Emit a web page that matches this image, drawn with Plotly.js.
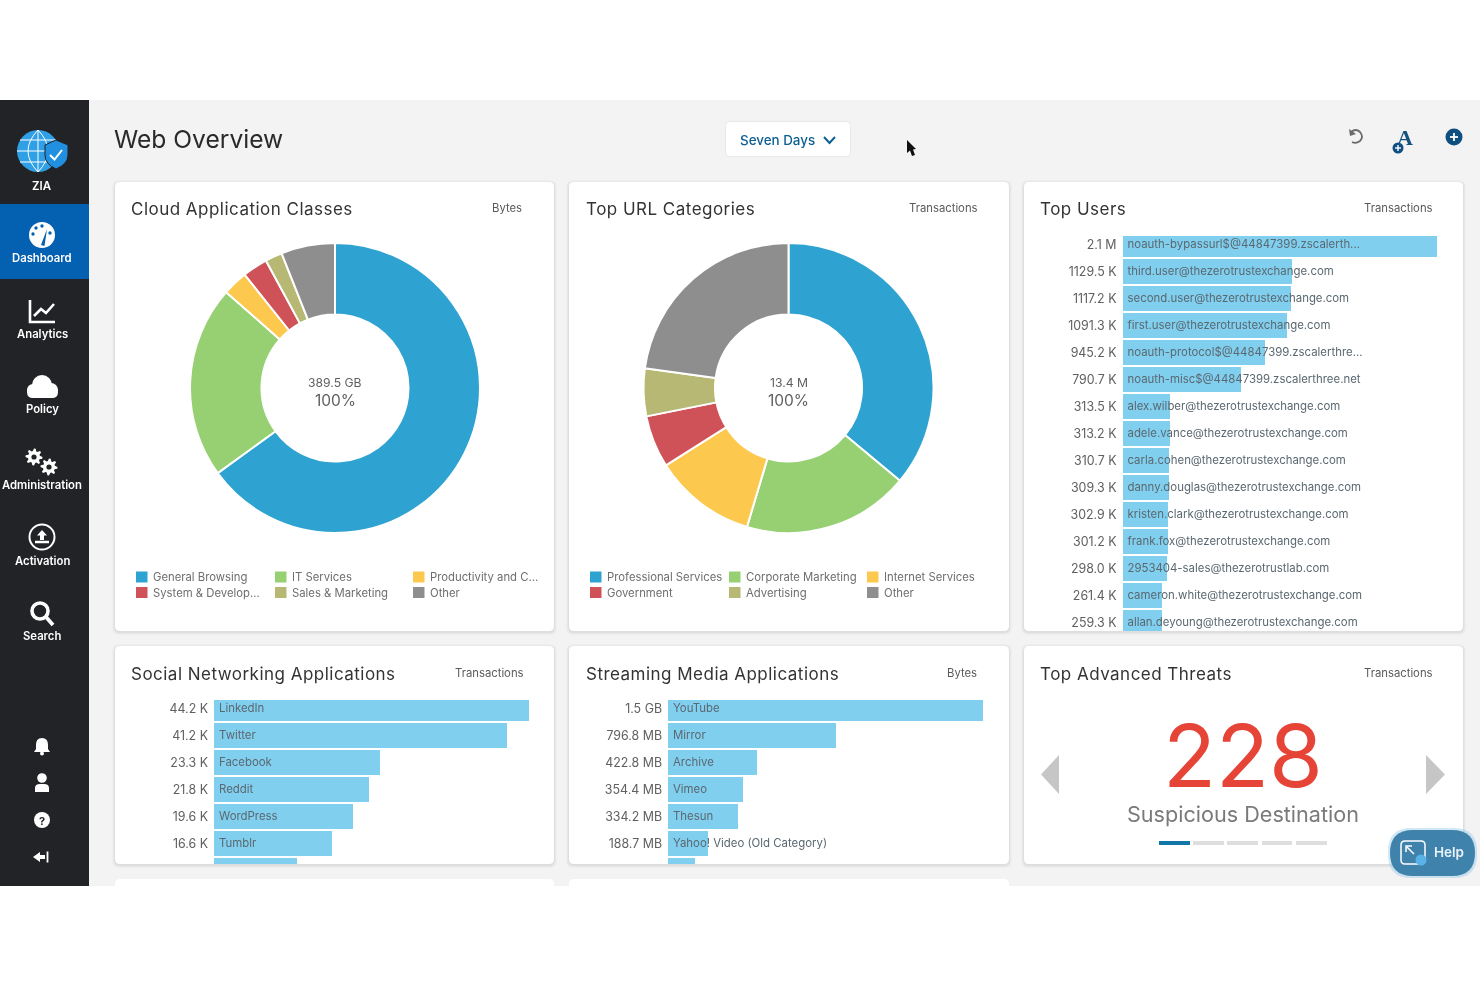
<!DOCTYPE html>
<html><head><meta charset="utf-8">
<script src="https://cdn.plot.ly/plotly-3.0.1.min.js"></script>
<style>
html,body{margin:0;padding:0;background:#fff;overflow:hidden}
#chart{filter:blur(.3px)}
text.annotation-text[style*="font-size: 17px"]{letter-spacing:.48px}
</style></head><body><div id="chart" style="width:1480px;height:987px"></div>
<script>
// ---------- data ----------
const cloudClassLabels = ['General Browsing','IT Services','Productivity and Collaboration','System & Development','Sales & Marketing','Other'];
const cloudClassValues = [253.2,83.7,10.9,10.9,7.4,23.4];
const cloudLegend = ['General Browsing','IT Services','Productivity and C...','System & Develop...','Sales & Marketing','Other'];
const urlCategoryLabels = ['Professional Services','Corporate Marketing','Internet Services','Government','Advertising','Other'];
const urlCategoryValues = [4.83,2.49,1.53,0.78,0.71,3.06];
const pieColors = ['#2ea2d1','#97d073','#fcc84e','#ce5257','#b7b874','#8e8e8e'];

const userNames = ['noauth-bypassurl$@44847399.zscalerth...','third.user@thezerotrustexchange.com','second.user@thezerotrustexchange.com','first.user@thezerotrustexchange.com','noauth-protocol$@44847399.zscalerthre...','noauth-misc$@44847399.zscalerthree.net','alex.wilber@thezerotrustexchange.com','adele.vance@thezerotrustexchange.com','carla.cohen@thezerotrustexchange.com','danny.douglas@thezerotrustexchange.com','kristen.clark@thezerotrustexchange.com','frank.fox@thezerotrustexchange.com','2953404-sales@thezerotrustlab.com','cameron.white@thezerotrustexchange.com','allan.deyoung@thezerotrustexchange.com'];
const userValues = [2090,1129.5,1117.2,1091.3,945.2,790.7,313.5,313.2,310.7,309.3,302.9,301.2,298.0,261.4,259.3];
const userTicks = ['2.1 M','1129.5 K','1117.2 K','1091.3 K','945.2 K','790.7 K','313.5 K','313.2 K','310.7 K','309.3 K','302.9 K','301.2 K','298.0 K','261.4 K','259.3 K'];

const socialNames = ['LinkedIn','Twitter','Facebook','Reddit','WordPress','Tumblr',''];
const socialValues = [44.2,41.2,23.3,21.8,19.6,16.6,11.7];
const socialTicks = ['44.2 K','41.2 K','23.3 K','21.8 K','19.6 K','16.6 K','11.7 K'];

const streamNames = ['YouTube','Mirror','Archive','Vimeo','Thesun','Yahoo! Video (Old Category)',''];
const streamValues = [1496,796.8,422.8,354.4,334.2,188.7,128];
const streamTicks = ['1.5 GB','796.8 MB','422.8 MB','354.4 MB','334.2 MB','188.7 MB','128.0 MB'];

const navLabels = ['ZIA','Dashboard','Analytics','Policy','Administration','Activation','Search'];

// ---------- helpers ----------
const W=1480,H=987, FONT='Inter, "Noto Sans", sans-serif';
const px=x=>x/W, py=y=>1-y/H;
const shapes=[], annotations=[], traces=[];
function rect(x0,y0,x1,y1,fill,layer){shapes.push({type:'rect',xref:'paper',yref:'paper',x0:px(x0),x1:px(x1),y0:py(y1),y1:py(y0),fillcolor:fill,line:{width:0},layer:layer||'below'});}
function path(d,fill,lineColor,lineWidth,layer){
  const out=d.replace(/([MLQCZ])([^MLQCZ]*)/g,(m,c,a)=>{
    const n=a.trim().split(/[\s,]+/).filter(Boolean).map(Number);let r=c;
    for(let i=0;i<n.length;i+=2)r+=(i?' ':'')+px(n[i]).toFixed(6)+','+py(n[i+1]).toFixed(6);
    return r+' ';});
  shapes.push({type:'path',xref:'paper',yref:'paper',path:out.trim(),fillcolor:fill||'rgba(0,0,0,0)',line:{color:lineColor||'rgba(0,0,0,0)',width:lineWidth||0},layer:layer||'below'});
}
function circle(cx,cy,r,fill,lineColor,lineWidth,layer,dash){shapes.push({type:'circle',xref:'paper',yref:'paper',x0:px(cx-r),x1:px(cx+r),y0:py(cy+r),y1:py(cy-r),fillcolor:fill||'rgba(0,0,0,0)',line:{color:lineColor||'rgba(0,0,0,0)',width:lineWidth||0,dash:dash||'solid'},layer:layer||'below'});}
function rr(x0,y0,x1,y1,r){return `M${x0+r} ${y0} L${x1-r} ${y0} Q${x1} ${y0} ${x1} ${y0+r} L${x1} ${y1-r} Q${x1} ${y1} ${x1-r} ${y1} L${x0+r} ${y1} Q${x0} ${y1} ${x0} ${y1-r} L${x0} ${y0+r} Q${x0} ${y0} ${x0+r} ${y0} Z`;}
function topRound(x0,y0,x1,y1,r){return `M${x0} ${y1} L${x0} ${y0+r} Q${x0} ${y0} ${x0+r} ${y0} L${x1-r} ${y0} Q${x1} ${y0} ${x1} ${y0+r} L${x1} ${y1} Z`;}
function text(x,y,t,size,color,anchor,weight,family){
  const a=anchor||'left', nudge=a==='left'?-1:(a==='right'?1:0);
  annotations.push({xref:'paper',yref:'paper',x:px(x+nudge),y:py(y),text:t,showarrow:false,xanchor:a,yanchor:'middle',borderpad:0,font:{family:family||FONT,size:size,color:color,weight:weight||400}});}
function card(x0,y0,x1,y1){
  path(rr(x0-3,y0-2,x1+3,y1+4,7),'rgba(0,0,0,0.018)');
  path(rr(x0-2,y0-1,x1+2,y1+3,6),'rgba(0,0,0,0.025)');
  path(rr(x0-1,y0,x1+1,y1+2,6),'rgba(0,0,0,0.04)');
  path(rr(x0,y0,x1,y1,5),'#ffffff');
}
let axisN=0;
function barPanel(names,values,ticks,left,right,top,bottom,firstCenter,fullPx){
  axisN++;const id=axisN===1?'':axisN;
  const pitch=27, max=Math.max(...values), unit=max/fullPx;
  const idx=values.map((v,i)=>i);
  traces.push({type:'bar',orientation:'h',x:values,y:idx,width:24.5/pitch,marker:{color:'#81cfef'},xaxis:'x'+id,yaxis:'y'+id,hoverinfo:'skip',showlegend:false});
  traces.push({type:'scatter',mode:'text',x:values.map(()=>5*unit),y:idx.map(i=>i+0.035),text:names,textposition:'middle right',textfont:{family:FONT,size:11.4,color:'#5a6870'},xaxis:'x'+id,yaxis:'y'+id,hoverinfo:'skip',showlegend:false,cliponaxis:true});
  layout['xaxis'+id]={domain:[px(left),px(right)],range:[0,(right-left)*unit],visible:false,anchor:'y'+id,fixedrange:true};
  layout['yaxis'+id]={domain:[py(bottom),py(top)],range:[(bottom-firstCenter)/pitch,(top-firstCenter)/pitch],anchor:'x'+id,showgrid:false,zeroline:false,showline:false,ticks:'',tickmode:'array',tickvals:idx,ticktext:ticks,ticklabelstandoff:5,tickfont:{family:FONT,size:12.4,color:'#606060'},fixedrange:true};
}
function donut(labels,values,cx,cy,r,hole1,hole2){
  traces.push({type:'pie',labels:labels,values:values,sort:false,direction:'clockwise',rotation:0,hole:.507,textinfo:'none',hoverinfo:'skip',showlegend:false,
    marker:{colors:pieColors,line:{color:'#ffffff',width:2}},domain:{x:[px(cx-r),px(cx+r)],y:[py(cy+r),py(cy-r)]}});
  text(cx,cy-5.5,hole1,12.2,'#5f5f5f','center');
  text(cx,cy+12.5,hole2,15.5,'#5f5f5f','center');
}
function legend(names,xs,textOffset){
  names.forEach((n,i)=>{const x=xs[i%3],y=i<3?577:592.5;
    rect(x,y-5.5,x+11.5,y+5.5,pieColors[i]);
    text(x+textOffset,y,n,11.3,'#6e6e6e');});
}
function gear(cx,cy,R,r,n){let d='';for(let i=0;i<n*4;i++){const a=i/(n*4)*2*Math.PI,q=(i%4<2)?R:r;d+=(i?'L':'M')+(cx+q*Math.cos(a)).toFixed(2)+' '+(cy+q*Math.sin(a)).toFixed(2)+' ';}return d+'Z';}

const layout={width:W,height:H,margin:{l:0,r:0,t:0,b:0},paper_bgcolor:'#ffffff',plot_bgcolor:'rgba(0,0,0,0)',showlegend:false,bargap:0,shapes:shapes,annotations:annotations,font:{family:FONT}};

// ---------- page frame ----------
rect(0,100,W,886,'#f3f3f3');
rect(0,100,89,886,'#222326');
rect(0,204,89,279,'#0460b0');
text(114,139,'Web Overview',24.6,'#2a2a2a');
path(rr(725,121,851,157,5),'rgba(0,0,0,0.04)');
path(rr(726,122,850,156,4),'#ffffff');
text(740,140,'Seven Days',13.4,'#0c5f92','left',500);
path('M824 137 L829.5 143 L835 137',null,'#0c5f92',2);
// cursor
path('M907 140 L907 153 L910 150.5 L912 156 L915 155 L913 149.5 L916 149 Z','#111111');
// top right icons
path('M1351 132 Q1356 128 1360 132 Q1364 137 1360 141 Q1356 144 1352 142',null,'#6a6a6a',1.8);
path('M1349 129 L1350 136 L1356 134 Z','#6a6a6a');
text(1405,138,'A',22,'#14527f','center',700,'"Liberation Serif", serif');
circle(1398,148,5.5,'#0e4f80');
path('M1395 148 L1401 148',null,'#ffffff',1.4);path('M1398 145 L1398 151',null,'#ffffff',1.4);
circle(1454,137,8.5,'#0e4f80');
path('M1450 137 L1458 137',null,'#ffffff',1.8);path('M1454 133 L1454 141',null,'#ffffff',1.8);

// ---------- cards ----------
card(115,182,554,631);card(569,182,1009,631);card(1024,182,1463,631);
card(115,646,554,864);card(569,646,1009,864);card(1024,646,1463,864);
path(topRound(115,879,554,886,5),'#ffffff');
path(topRound(569,879,1009,886,5),'#ffffff');
[[131,209,'Cloud Application Classes',522,'Bytes',208],[586,209,'Top URL Categories',978,'Transactions',208],[1040,209,'Top Users',1433,'Transactions',208],
 [131,674,'Social Networking Applications',524,'Transactions',672.5],[586,674,'Streaming Media Applications',977,'Bytes',672.5],[1040,674,'Top Advanced Threats',1433,'Transactions',672.5]]
 .forEach(c=>{text(c[0],c[1],c[2],17,'#333333');text(c[3],c[5],c[4],11.3,'#5a5a5a','right');});

// ---------- charts ----------
donut(cloudClassLabels,cloudClassValues,335,388,145,'389.5 GB','100%');
donut(urlCategoryLabels,urlCategoryValues,788.5,388,145,'13.4 M','100%');
legend(cloudLegend,[136,275,413],16.5);
legend(urlCategoryLabels,[590,729,867],16.5);
barPanel(userNames,userValues,userTicks,1122.5,1463,236,631,244.5,314.5);
barPanel(socialNames,socialValues,socialTicks,214,554,700,864,708.5,314.5);
barPanel(streamNames,streamValues,streamTicks,668,1009,700,864,708.5,314.5);

// ---------- threats tile ----------
annotations.push({xref:'paper',yref:'paper',x:px(1243),y:py(755.5),text:'228',showarrow:false,xanchor:'center',yanchor:'middle',font:{family:FONT,size:87,color:'#e64437',weight:400}});
text(1243,813.5,'Suspicious Destination',21.6,'#7a7a7a','center');
rect(1159,841,1190,845,'#1176a8');
[[1193,1224],[1227,1258],[1262,1292],[1296,1327]].forEach(s=>rect(s[0],841,s[1],845,'#dedede'));
path('M1059 755 L1059 794 L1041 774.5 Z','#c6c6c6');
path('M1426 755 L1426 794 L1445 774.5 Z','#c6c6c6');

// ---------- sidebar ----------
[[42,185.5],[42,258],[42,334],[42,409],[42,485],[42,561],[42,636]].forEach((p,i)=>text(p[0],p[1],navLabels[i],i===0?11.5:11.3,'#ffffff','center',600));
// globe
circle(38,151,21,'#2f9fe6');
path('M17 151 L59 151',null,'#ffffff',1);path('M20 140 L56 140',null,'#ffffff',1);path('M20 162 L56 162',null,'#ffffff',1);
path('M38 130 L38 172',null,'#ffffff',1);path('M38 130 Q18 151 38 172',null,'#ffffff',1);path('M38 130 Q58 151 38 172',null,'#ffffff',1);
path('M56 140 L68 145 L68 155 Q68 164 56 169 Q45 164 45 155 L45 145 Z','#2290e0','#222326',1);
path('M50 155 L54.5 159.5 L62 150',null,'#ffffff',2);
// dashboard gauge
circle(42,235,13,'#ffffff');
path('M41 245 L47 229 L44.5 246 Z','#0460b0');
circle(33,234,1.7,'#0460b0');circle(36,228,1.7,'#0460b0');circle(42,226,1.7,'#0460b0');circle(50,233,1.7,'#0460b0');
// analytics
path('M30 300 L30 322 L55 322',null,'#ffffff',2.6);
path('M34 316 L41 309 L46 313 L54 304',null,'#ffffff',2.6);
// cloud
path(rr(27,386,58,398,6),'#ffffff');circle(42,385,10,'#ffffff');circle(51,390,7,'#ffffff');circle(33,390,6,'#ffffff');
// gears
path(gear(34,457,8.5,6,8),'#ffffff');circle(34,457,2.6,'#222326');
path(gear(49,467,8.5,6,8),'#ffffff');circle(49,467,2.6,'#222326');
// activation
circle(42,537,12.5,null,'#ffffff',2);
path('M42 530 L47 535.5 L44 535.5 L44 540 L40 540 L40 535.5 L37 535.5 Z','#ffffff');
path('M35 542 L49 542',null,'#ffffff',2.5);
// search
circle(40,611,8,null,'#ffffff',3.6);
path('M46 617 L53 625',null,'#ffffff',3.8);
// bell
path('M42 738 Q48 738 48 745 L48 749 L50 752 L34 752 L36 749 L36 745 Q36 738 42 738 Z','#ffffff');circle(42,753.5,2,'#ffffff');
// user
circle(42,778,4.8,'#ffffff');path('M35 792 L35 788 Q35 784 40 784 L44 784 Q49 784 49 788 L49 792 Z','#ffffff');
// help
circle(42,820,8,'#ffffff');text(42,820.5,'?',11,'#222326','center',700);
// collapse
path('M33 857 L40 852 L40 855 L45 855 L45 859 L40 859 L40 862 Z','#ffffff');path('M47.5 851.5 L47.5 862.5',null,'#ffffff',1.8);

// ---------- help pill ----------
path(rr(1388,828,1477,878,23),'rgba(130,190,225,0.35)',null,0,'above');
path(rr(1390,830,1475,876,23),'#3f83ad',null,0,'above');
path(rr(1401,841,1425,864,4),null,'#ffffff',1.5,'above');
path('M1407 847 L1414 854',null,'#ffffff',1.5,'above');path('M1406 852 L1406 846 L1412 846',null,'#ffffff',1.5,'above');
circle(1421,860,5.5,'#58b4e8',null,0,'above');
text(1449,852,'Help',13.5,'#e8f2f8','center',600);

Plotly.newPlot('chart',traces,layout,{displayModeBar:false,staticPlot:true});
</script></body></html>
